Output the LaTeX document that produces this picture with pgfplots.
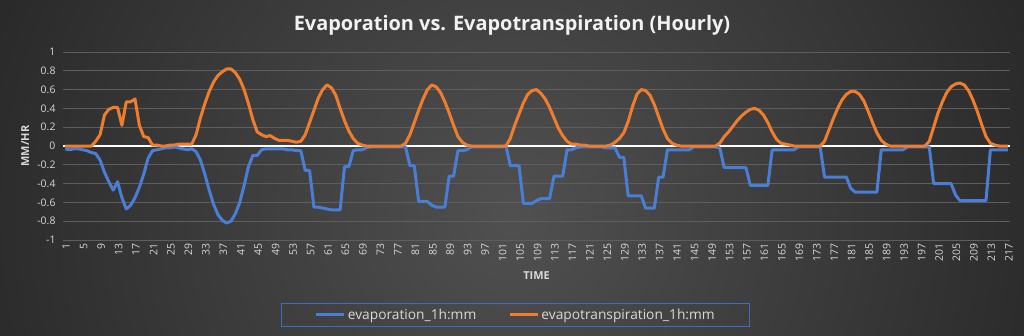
\documentclass[border=0pt]{standalone}
\usepackage{pgfplots}
\pgfplotsset{compat=1.18}
\usepackage{pgfplotstable}
\usepackage{fontspec}
\setmainfont{Open Sans}
\definecolor{bgin}{HTML}{505050}
\definecolor{bgout}{HTML}{1E1E1E}
\definecolor{gridc}{HTML}{5E5E5E}
\definecolor{txt}{HTML}{D9D9D9}
\definecolor{evapc}{HTML}{4A7DD4}
\definecolor{etc}{HTML}{F07D2E}
\definecolor{legbox}{HTML}{3C6DC0}

\pgfplotstableread{
t evap et
1 -0.03 0
2 -0.04 0
3 -0.03 0
4 -0.03 0
5 -0.04 0
6 -0.05 0
7 -0.07 0
8 -0.08 0.05
9 -0.15 0.12
10 -0.28 0.33
11 -0.38 0.39
12 -0.47 0.41
13 -0.38 0.41
14 -0.55 0.22
15 -0.67 0.47
16 -0.63 0.47
17 -0.55 0.50
18 -0.44 0.22
19 -0.30 0.10
20 -0.13 0.09
21 -0.05 0.01
22 -0.04 0.01
23 -0.03 0
24 -0.02 0
25 -0.02 0.01
26 -0.01 0.01
27 -0.02 0.02
28 -0.03 0.02
29 -0.04 0.02
30 -0.03 0.02
31 -0.06 0.12
32 -0.15 0.30
33 -0.30 0.45
34 -0.47 0.58
35 -0.62 0.68
36 -0.73 0.75
37 -0.79 0.79
38 -0.82 0.82
39 -0.80 0.82
40 -0.72 0.78
41 -0.60 0.71
42 -0.42 0.60
43 -0.22 0.45
44 -0.10 0.28
45 -0.10 0.15
46 -0.04 0.12
47 -0.03 0.10
48 -0.03 0.11
49 -0.03 0.08
50 -0.03 0.06
51 -0.03 0.06
52 -0.04 0.06
53 -0.04 0.05
54 -0.05 0.04
55 -0.05 0.05
56 -0.26 0.12
57 -0.26 0.25
58 -0.65 0.38
59 -0.65 0.51
60 -0.66 0.60
61 -0.67 0.65
62 -0.68 0.62
63 -0.68 0.54
64 -0.68 0.40
65 -0.22 0.27
66 -0.22 0.16
67 -0.05 0.08
68 -0.04 0.03
69 -0.04 0.01
70 -0.02 0
71 -0.01 0
72 -0.01 0
73 -0.01 0
74 -0.01 0
75 -0.01 0
76 -0.01 0
77 -0.01 0
78 -0.01 0
79 -0.01 0.03
80 -0.21 0.12
81 -0.21 0.25
82 -0.59 0.38
83 -0.59 0.50
84 -0.59 0.60
85 -0.63 0.65
86 -0.65 0.63
87 -0.65 0.57
88 -0.65 0.47
89 -0.32 0.35
90 -0.32 0.22
91 -0.05 0.10
92 -0.05 0.04
93 -0.04 0.01
94 -0.01 0
95 -0.01 0
96 -0.01 0
97 -0.01 0
98 -0.01 0
99 -0.01 0
100 -0.01 0
101 -0.01 0
102 0 0
103 -0.21 0.08
104 -0.21 0.22
105 -0.21 0.34
106 -0.61 0.46
107 -0.61 0.55
108 -0.61 0.59
109 -0.58 0.60
110 -0.56 0.56
111 -0.56 0.50
112 -0.56 0.41
113 -0.32 0.30
114 -0.32 0.19
115 -0.32 0.11
116 -0.04 0.05
117 -0.04 0.02
118 -0.02 0.02
119 -0.01 0.01
120 -0.01 0.01
121 -0.01 0
122 -0.01 0
123 -0.01 0
124 -0.01 0
125 -0.02 0
126 -0.02 0.01
127 -0.02 0.04
128 -0.12 0.08
129 -0.12 0.14
130 -0.53 0.26
131 -0.53 0.42
132 -0.53 0.55
133 -0.53 0.60
134 -0.66 0.59
135 -0.66 0.54
136 -0.66 0.44
137 -0.33 0.31
138 -0.33 0.18
139 -0.04 0.08
140 -0.04 0.03
141 -0.04 0.01
142 -0.04 0
143 -0.04 0
144 -0.04 0
145 -0.01 0
146 -0.01 0
147 -0.01 0
148 -0.01 0
149 -0.01 0
150 -0.01 0
151 -0.02 0.03
152 -0.23 0.10
153 -0.23 0.15
154 -0.23 0.21
155 -0.23 0.27
156 -0.23 0.32
157 -0.23 0.36
158 -0.42 0.39
159 -0.42 0.40
160 -0.42 0.38
161 -0.42 0.33
162 -0.42 0.25
163 -0.04 0.15
164 -0.04 0.07
165 -0.04 0.03
166 -0.04 0.02
167 -0.04 0.01
168 -0.04 0
169 -0.01 0
170 -0.01 0
171 -0.01 0
172 -0.01 0
173 -0.01 0
174 -0.01 0
175 -0.33 0.05
176 -0.33 0.17
177 -0.33 0.29
178 -0.33 0.40
179 -0.33 0.49
180 -0.33 0.55
181 -0.45 0.58
182 -0.49 0.58
183 -0.49 0.55
184 -0.49 0.48
185 -0.49 0.37
186 -0.49 0.25
187 -0.49 0.14
188 -0.04 0.06
189 -0.04 0.02
190 -0.04 0
191 -0.04 0
192 -0.04 0
193 -0.04 0
194 -0.01 0
195 -0.01 0
196 -0.01 0
197 -0.01 0
198 -0.01 0
199 -0.01 0.05
200 -0.40 0.20
201 -0.40 0.35
202 -0.40 0.47
203 -0.40 0.57
204 -0.40 0.63
205 -0.52 0.66
206 -0.58 0.67
207 -0.58 0.65
208 -0.58 0.59
209 -0.58 0.49
210 -0.58 0.37
211 -0.58 0.23
212 -0.58 0.10
213 -0.04 0.03
214 -0.04 0.01
215 -0.04 0
216 -0.04 0
217 -0.04 0
}\datatable

\begin{document}
\begin{tikzpicture}[x=1bp,y=1bp]
\begin{scope}
\clip (0,0) rectangle (1024,335);
\fill[bgout] (0,0) rectangle (1024,335);
\shade[inner color=bgin, outer color=bgout] (512,120) circle (720);
\end{scope}
\node[text=white!95!black, font=\bfseries\fontsize{20}{24}\selectfont] at (512,310) {Evaporation vs. Evapotranspiration (Hourly)};
\begin{axis}[
  at={(63bp,95bp)}, anchor=south west,
  scale only axis, width=947bp, height=188bp,
  xmin=0.5, xmax=217.5, ymin=-1, ymax=1,
  axis line style={draw=none},
  major tick length=0pt,
  ytick={-1,-0.8,-0.6,-0.4,-0.2,0,0.2,0.4,0.6,0.8,1},
  yticklabels={-1,-0.8,-0.6,-0.4,-0.2,0,0.2,0.4,0.6,0.8,1},
  xtick={1,5,...,217},
  ymajorgrids, grid style={gridc, line width=0.9bp},
  extra y ticks={0}, extra y tick labels={},
  extra y tick style={grid style={white, line width=2.8bp}},
  /pgf/number format/assume math mode=true,
  ticklabel style={text=txt, font=\fontsize{10.5}{12}\selectfont},
  yticklabel style={anchor=east, xshift=-4bp},
  xticklabel style={rotate=90, anchor=east, yshift=-1bp},
  xlabel={TIME}, ylabel={MM/HR},
  label style={text=txt, font=\bfseries\fontsize{11}{13}\selectfont},
  xlabel style={at={(rel axis cs:0.5,-0.191)}, anchor=center},
  ylabel style={at={(rel axis cs:-0.040,0.5)}, anchor=center, rotate=0},
  legend columns=2,
  legend style={at={(rel axis cs:0.478,-0.398)}, anchor=center,
    draw=legbox, line width=0.8bp, fill=none, text=txt,
    font=\fontsize{13.8}{16}\selectfont,
    inner xsep=33bp, inner ysep=3.5bp,
    /tikz/every even column/.append style={column sep=30bp}},
  legend image code/.code={\draw[#1, line width=3.2bp] (0bp,0bp) -- (28bp,0bp);},
]
\addplot[evapc, line width=3bp, line join=round] table[x=t, y=evap] {\datatable};
\addlegendentry{evaporation\_1h:mm}
\addplot[etc, line width=3bp, line join=round] table[x=t, y=et] {\datatable};
\addlegendentry{evapotranspiration\_1h:mm}
\end{axis}
\pgfresetboundingbox
\path (0,0) rectangle (1024,335);
\end{tikzpicture}
\end{document}
